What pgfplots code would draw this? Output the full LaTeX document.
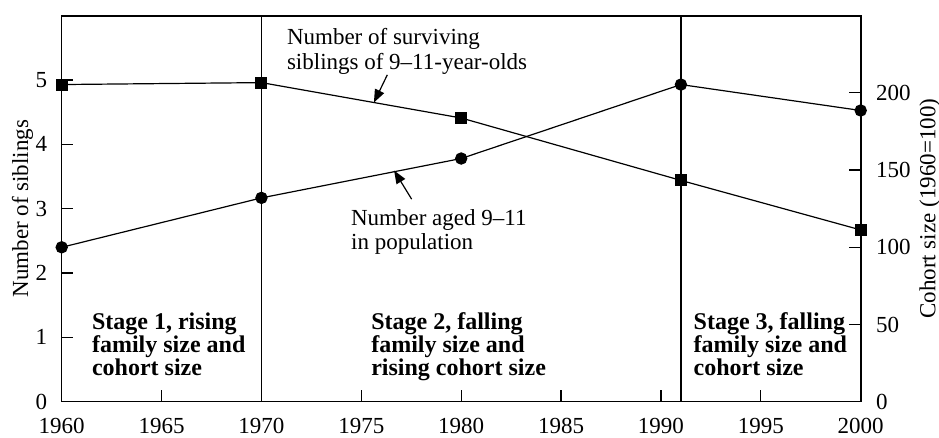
\documentclass[border=0pt]{standalone}
\usepackage{fontspec}
\setmainfont{Liberation Serif}
\usepackage{pgfplots}
\pgfplotsset{compat=1.18}
\usetikzlibrary{arrows.meta}
\begin{document}
\begin{tikzpicture}
\pgfplotsset{
  every axis/.append style={
    scale only axis, width=399.5pt, height=193pt,
    xmin=1960, xmax=2000,
    /pgf/number format/assume math mode=true,
    tick label style={font=\fontsize{11.5}{12}\selectfont},
    major tick length=5.8pt,
    tick style={black, line width=0.6pt},
    tick align=inside,
    clip=false,
  }
}
\begin{axis}[
  ymin=0, ymax=6, ytick={0,1,2,3,4,5},
  xtick={1960,1965,...,2000},
  xtick pos=bottom, ytick pos=left,
  xticklabel style={/pgf/number format/1000 sep={}, yshift=-4.6pt},
  yticklabel style={xshift=-3.7pt},
  axis line style={line width=0.8pt},
]
\coordinate (ll) at (rel axis cs:0,0);
\coordinate (ur) at (rel axis cs:1,1);
\node[rotate=90, font=\fontsize{11.5}{12}\selectfont] at ([xshift=-19.6pt]rel axis cs:0,0.5) {Number of siblings};
\addplot[black, line width=0.6pt] coordinates {(1970,0) (1970,6)};
\addplot[black, line width=0.6pt] coordinates {(1991,0) (1991,6)};
\addplot[black, line width=0.6pt, mark=square*, mark size=2.7pt, mark options={solid, fill=black}]
  coordinates {(1960,4.93) (1970,4.96) (1980,4.41) (1991,3.44) (2000,2.67)};
% annotations
\begin{scope}[every node/.style={anchor=base west, inner sep=0pt, font=\fontsize{11.5}{12}\selectfont}]
\node at (axis cs:1971.26,5.547) {Number of surviving};
\node at (axis cs:1971.26,5.159) {siblings of 9–11-year-olds};
\node at (axis cs:1974.47,2.733) {Number aged 9–11};
\node at (axis cs:1974.47,2.370) {in population};
\end{scope}
\begin{scope}[every node/.style={anchor=base west, inner sep=0pt, font=\fontsize{12}{12}\selectfont\bfseries}]
\node at (axis cs:1961.5,1.124) {Stage 1, rising};
\node at (axis cs:1961.5,0.762) {family size and};
\node at (axis cs:1961.5,0.404) {cohort size};
\node at (axis cs:1975.48,1.124) {Stage 2, falling};
\node at (axis cs:1975.48,0.762) {family size and};
\node at (axis cs:1975.48,0.404) {rising cohort size};
\node at (axis cs:1991.62,1.124) {Stage 3, falling};
\node at (axis cs:1991.62,0.762) {family size and};
\node at (axis cs:1991.62,0.404) {cohort size};
\end{scope}
\draw[line width=0.6pt, -{Triangle[length=6.5pt, width=5pt]}] (axis cs:1976.3,5.08) -- (axis cs:1975.63,4.65);
\draw[line width=0.6pt, -{Triangle[length=6.5pt, width=5pt]}] (axis cs:1977.52,3.148) -- (axis cs:1976.64,3.593);
\end{axis}
\begin{axis}[
  ymin=0, ymax=250, ytick={0,50,100,150,200},
  axis x line=none, axis y line*=right,
  yticklabel style={xshift=4.2pt},
  axis line style={line width=0.8pt},
]
\node[rotate=90, font=\fontsize{11.5}{12}\selectfont] at ([xshift=34.6pt]rel axis cs:1,0.5) {Cohort size (1960=100)};
\addplot[black, line width=0.6pt, mark=*, mark size=2.8pt, mark options={solid, fill=black}]
  coordinates {(1960,100) (1970,132) (1980,157.5) (1991,205.4) (2000,188.6)};
\end{axis}
\pgfresetboundingbox
\path ([shift={(-30.85pt,-18.15pt)}]ll) rectangle ([shift={(39.15pt,7.85pt)}]ur);
\end{tikzpicture}
\end{document}
